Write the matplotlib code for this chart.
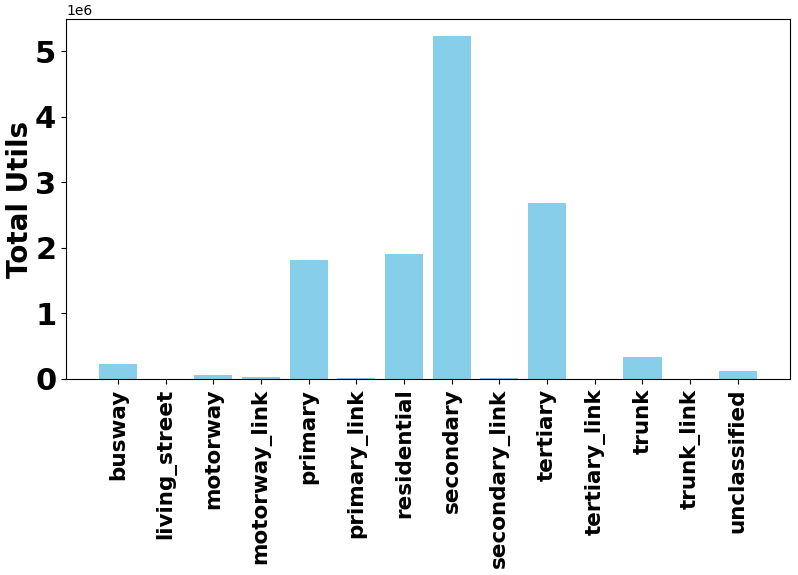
import matplotlib
matplotlib.use("Agg")
import matplotlib.pyplot as plt
from matplotlib.ticker import MultipleLocator

categories = ["busway", "living_street", "motorway", "motorway_link", "primary",
              "primary_link", "residential", "secondary", "secondary_link",
              "tertiary", "tertiary_link", "trunk", "trunk_link", "unclassified"]
values = [0.226e6, 0.002e6, 0.053e6, 0.035e6, 1.81e6, 0.015e6, 1.90e6, 5.23e6,
          0.01e6, 2.69e6, 0.003e6, 0.34e6, 0.002e6, 0.12e6]

fig = plt.figure(figsize=(7.98, 5.75), dpi=100)
ax = fig.add_axes([0.0827, 0.341, 0.907, 0.626])
ax.bar(categories, values, color="skyblue")
ax.yaxis.set_major_locator(MultipleLocator(1e6))
ax.set_ylabel("Total Utils", fontsize=20, fontweight="bold", labelpad=1)
ax.tick_params(axis="y", labelsize=22)
ax.tick_params(axis="x", labelsize=15.5, rotation=90)
for lbl in ax.get_xticklabels() + ax.get_yticklabels():
    lbl.set_fontweight("bold")
fig.savefig("out.png", dpi=100)
